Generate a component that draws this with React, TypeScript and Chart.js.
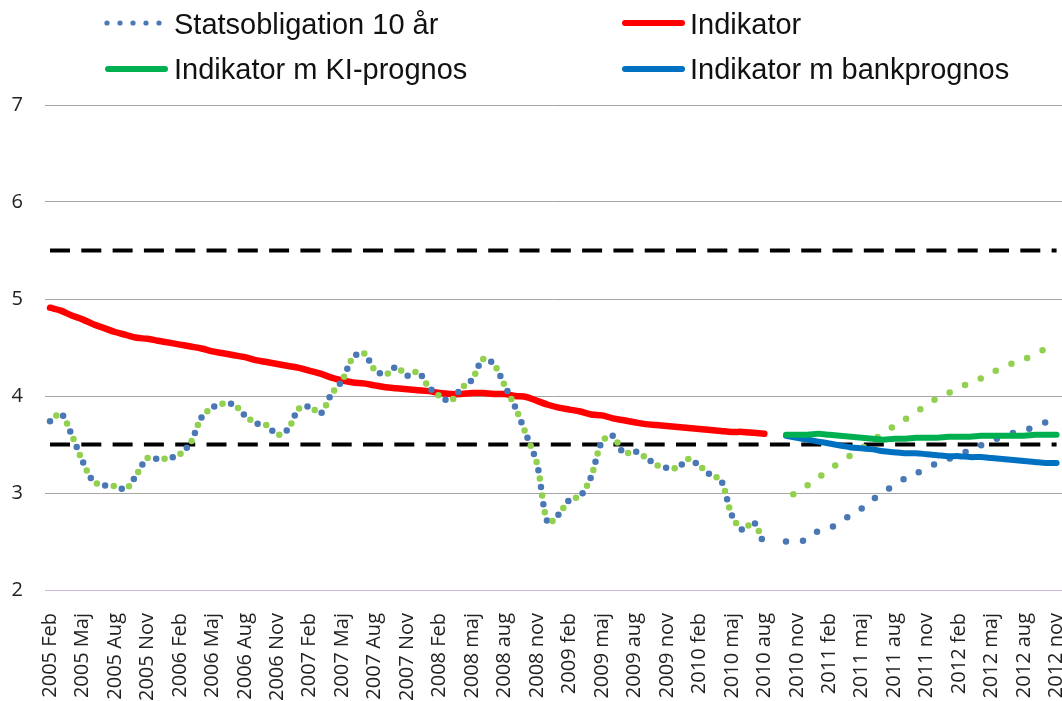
import React, { useEffect, useRef } from "react";
import { Chart, registerables } from "chart.js";

Chart.register(...registerables);

// ---- Data ----
const years = [2005, 2006, 2007, 2008, 2009, 2010, 2011, 2012];
const monthNames = ["jan", "feb", "mar", "apr", "maj", "jun", "jul", "aug", "sep", "okt", "nov", "dec"];

// Quarterly tick labels (2005 Feb ... 2012 nov)
const tickLabels = [
  "2005 Feb", "2005 Maj", "2005 Aug", "2005 Nov",
  "2006 Feb", "2006 Maj", "2006 Aug", "2006 Nov",
  "2007 Feb", "2007 Maj", "2007 Aug", "2007 Nov",
  "2008 Feb", "2008 maj", "2008 aug", "2008 nov",
  "2009 feb", "2009 maj", "2009 aug", "2009 nov",
  "2010 feb", "2010 maj", "2010 aug", "2010 nov",
  "2011 feb", "2011 maj", "2011 aug", "2011 nov",
  "2012 feb", "2012 maj", "2012 aug", "2012 nov",
];

// Statsobligation 10 år, monthly 2005 Feb - 2010 aug
const bondHistory = [
  3.74, 3.82, 3.60, 3.33, 3.12, 3.08, 3.07, 3.04, 3.19, 3.36, 3.35,
  3.36, 3.40, 3.52, 3.78, 3.88, 3.92, 3.91, 3.80, 3.72, 3.70, 3.60, 3.66,
  3.87, 3.89, 3.82, 4.02, 4.16, 4.40, 4.44, 4.27, 4.22, 4.30, 4.21, 4.25,
  4.09, 4.00, 3.95, 4.08, 4.17, 4.38, 4.33, 4.11, 3.88, 3.60, 3.30, 2.69,
  2.78, 2.93, 2.97, 3.17, 3.53, 3.59, 3.41, 3.43, 3.37, 3.29, 3.26, 3.26,
  3.35, 3.28, 3.19, 3.13, 2.77, 2.62, 2.70, 2.46,
];

// Indikator, monthly 2005 Feb - 2010 aug
const indikator = [
  4.91, 4.88, 4.83, 4.79, 4.74, 4.70, 4.66, 4.63, 4.60, 4.59, 4.57,
  4.55, 4.53, 4.51, 4.49, 4.46, 4.44, 4.42, 4.40, 4.37, 4.35, 4.33, 4.31,
  4.29, 4.26, 4.23, 4.19, 4.16, 4.14, 4.13, 4.11, 4.09, 4.08, 4.07, 4.06,
  4.05, 4.03, 4.02, 4.02, 4.03, 4.03, 4.02, 4.02, 4.00, 3.99, 3.95, 3.91,
  3.88, 3.86, 3.84, 3.81, 3.80, 3.77, 3.75, 3.73, 3.71, 3.70, 3.69, 3.68,
  3.67, 3.66, 3.65, 3.64, 3.63, 3.63, 3.62, 3.61,
];

// Forecasts, monthly 2010 okt - 2012 nov
const bondKIForecast = [
  2.94, 3.01, 3.08, 3.16, 3.24, 3.32, 3.39, 3.46, 3.54, 3.62, 3.69, 3.76, 3.83,
  3.91, 3.98, 4.03, 4.08, 4.14, 4.18, 4.24, 4.29, 4.34, 4.38, 4.43, 4.49, 4.56,
];
const bondBankForecast = [
  2.50, 2.50, 2.52, 2.61, 2.64, 2.69, 2.78, 2.84, 2.93, 3.01, 3.08, 3.15, 3.20,
  3.26, 3.31, 3.35, 3.40, 3.44, 3.49, 3.54, 3.58, 3.62, 3.65, 3.68, 3.73, 3.77,
];
const indikatorKI = [
  3.60, 3.60, 3.60, 3.61, 3.60, 3.59, 3.58, 3.57, 3.56, 3.55, 3.56, 3.56, 3.57,
  3.57, 3.57, 3.58, 3.58, 3.58, 3.59, 3.59, 3.59, 3.59, 3.59, 3.60, 3.60, 3.60,
];
const indikatorBank = [
  3.59, 3.57, 3.55, 3.53, 3.51, 3.49, 3.47, 3.46, 3.45, 3.43, 3.42, 3.41, 3.41,
  3.40, 3.39, 3.38, 3.38, 3.37, 3.37, 3.36, 3.35, 3.34, 3.33, 3.32, 3.31, 3.31,
];

const upperLimit = 5.5;
const lowerLimit = 3.5;

// ---- Build categories (monthly) ----
const categories: string[] = [];
for (const y of years) {
  for (let m = 0; m < 12; m++) {
    if (y === 2005 && m < 1) continue;
    if (y === 2012 && m > 10) continue;
    categories.push(`${y} ${monthNames[m]}`);
  }
}
const N = categories.length; // 94
const fcStart = N - bondKIForecast.length; // 68

const pad = (n: number) => new Array(n).fill(null);
const histThenForecast = (hist: number[], fc: number[]) =>
  [...hist, ...pad(fcStart - hist.length), ...fc];
const onlyHist = (hist: number[]) => [...hist, ...pad(N - hist.length)];
const onlyForecast = (fc: number[]) => [...pad(fcStart), ...fc];

const COLORS = {
  blueDot: "#4A78B5",
  greenDot: "#92D050",
  red: "#FF0000",
  green: "#00B050",
  blue: "#0070C0",
  black: "#000000",
};

const legendItems = [
  { x: 105, y: 23, tx: 174, ty: 34, type: "dots", color: COLORS.blueDot, label: "Statsobligation 10 år" },
  { x: 622, y: 23, tx: 690, ty: 34, type: "line", color: COLORS.red, label: "Indikator" },
  { x: 105, y: 69, tx: 174, ty: 79, type: "line", color: COLORS.green, label: "Indikator m KI-prognos" },
  { x: 622, y: 69, tx: 690, ty: 79, type: "line", color: COLORS.blue, label: "Indikator m bankprognos" },
];

const legendPlugin = {
  id: "customLegend",
  afterDraw(chart: any) {
    const ctx = chart.ctx as CanvasRenderingContext2D;
    ctx.save();
    for (const it of legendItems) {
      if (it.type === "dots") {
        ctx.fillStyle = it.color;
        for (let k = 0; k < 5; k++) {
          ctx.beginPath();
          ctx.arc(it.x + 2 + k * 13, it.y, 2.6, 0, Math.PI * 2);
          ctx.fill();
        }
      } else {
        ctx.strokeStyle = it.color;
        ctx.lineWidth = 6;
        ctx.lineCap = "round";
        ctx.beginPath();
        ctx.moveTo(it.x + 3, it.y);
        ctx.lineTo(it.x + 60, it.y);
        ctx.stroke();
      }
      ctx.fillStyle = "#111";
      ctx.font = "29px 'Liberation Sans', Arial, sans-serif";
      ctx.textBaseline = "alphabetic";
      ctx.textAlign = "left";
      ctx.fillText(it.label, it.tx, it.ty);
    }
    ctx.restore();
  },
};

export default function App() {
  const canvasRef = useRef<HTMLCanvasElement | null>(null);

  useEffect(() => {
    document.body.style.margin = "0";
    const canvas = canvasRef.current;
    if (!canvas) return;

    const dotted = {
      borderWidth: 6.5,
      borderDash: [0, 17],
      borderCapStyle: "round" as const,
      pointRadius: 0,
      tension: 0.3,
      spanGaps: false,
      fill: false,
    };

    const chart = new Chart(canvas, {
      type: "line",
      data: {
        labels: categories,
        datasets: [
          {
            label: "Indikator m KI-prognos",
            data: onlyForecast(indikatorKI),
            borderColor: COLORS.green,
            borderWidth: 6,
            pointRadius: 0,
            tension: 0.3,
            order: 1,
            borderCapStyle: "round",
          },
          {
            label: "Indikator m bankprognos",
            data: onlyForecast(indikatorBank),
            borderColor: COLORS.blue,
            borderWidth: 6,
            pointRadius: 0,
            tension: 0.3,
            order: 2,
            borderCapStyle: "round",
          },
          {
            label: "Statsobligation 10 år (KI)",
            data: histThenForecast(bondHistory, bondKIForecast),
            borderColor: COLORS.greenDot,
            borderDashOffset: 8.5,
            order: 3,
            ...dotted,
          },
          {
            label: "Statsobligation 10 år",
            data: histThenForecast(bondHistory, bondBankForecast),
            borderColor: COLORS.blueDot,
            order: 4,
            ...dotted,
          },
          {
            label: "Indikator",
            data: onlyHist(indikator),
            borderColor: COLORS.red,
            borderWidth: 6.5,
            pointRadius: 0,
            tension: 0.3,
            order: 5,
            borderCapStyle: "round",
          },
          {
            label: "Övre gräns",
            data: categories.map(() => upperLimit),
            borderColor: COLORS.black,
            borderWidth: 4,
            borderDash: [20, 11.3],
            pointRadius: 0,
            order: 6,
          },
          {
            label: "Nedre gräns",
            data: categories.map(() => lowerLimit),
            borderColor: COLORS.black,
            borderWidth: 4,
            borderDash: [20, 11.3],
            pointRadius: 0,
            order: 7,
          },
        ],
      },
      options: {
        animation: false,
        responsive: false,
        maintainAspectRatio: false,
        layout: { padding: { top: 105, right: 0, left: 0, bottom: 0 } },
        plugins: {
          legend: { display: false },
          tooltip: { enabled: false },
        },
        scales: {
          x: {
            type: "category",
            offset: true,
            grid: { display: false, drawTicks: false },
            border: { display: false },
            ticks: {
              autoSkip: false,
              maxRotation: 90,
              minRotation: 90,
              padding: 23,
              color: "#222",
              font: { family: "'Open Sans', sans-serif", size: 20 },
              callback: (_v: any, i: number) => (i % 3 === 0 ? tickLabels[i / 3] : ""),
            },
            afterFit: (s: any) => {
              s.height = 111;
              s.paddingLeft = 0;
              s.paddingRight = 0;
            },
          },
          y: {
            min: 2,
            max: 7,
            ticks: {
              stepSize: 1,
              padding: 21.6,
              color: "#222",
              font: { family: "'Open Sans', sans-serif", size: 20 },
            },
            grid: {
              drawTicks: false,
              color: (c: any) => (c.tick && c.tick.value === 2 ? "#cdb5de" : "#a6a6a6"),
              lineWidth: 1,
            },
            border: { display: false },
            afterFit: (s: any) => {
              s.width = 44.6;
            },
          },
        },
      },
      plugins: [legendPlugin],
    });

    return () => chart.destroy();
  }, []);

  return (
    <div style={{ width: 1062, height: 701, overflow: "hidden", position: "relative", background: "#fff" }}>
      <canvas ref={canvasRef} width={1062} height={701} style={{ display: "block" }} />
    </div>
  );
}
